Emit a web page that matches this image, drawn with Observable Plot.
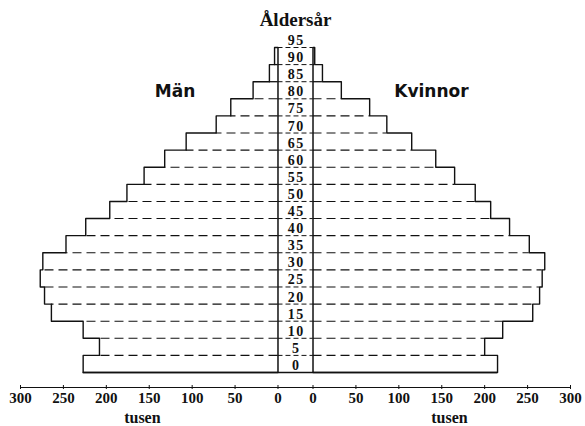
<!DOCTYPE html>
<html>
<head>
<meta charset="utf-8">
<script src="https://cdn.jsdelivr.net/npm/d3@7"></script>
<script src="https://cdn.jsdelivr.net/npm/@observablehq/plot@0.6"></script>
<style>
  html, body { margin: 0; padding: 0; background: #fff; }
  #chart svg { display: block; }
  .agelab text { letter-spacing: 1.5px; }
</style>
</head>
<body>
<div id="chart"></div>
<script>
// Age groups (lower bound of 5-year class)
const ages = [0, 5, 10, 15, 20, 25, 30, 35, 40, 45, 50, 55, 60, 65, 70, 75, 80, 85, 90];
// Population in thousands
const men   = [227, 208, 227, 264, 272, 277, 274, 247, 224, 196, 176, 156, 132, 107, 72, 55, 29, 10, 4];
const women = [215, 200, 221, 256, 264, 267, 270, 252, 229, 207, 189, 165, 143, 115, 86, 66, 33, 11, 2];
// Age tick labels in the centre column
const ageLabels = [0, 5, 10, 15, 20, 25, 30, 35, 40, 45, 50, 55, 60, 65, 70, 75, 80, 85, 90, 95];
// Axis tick values (thousands)
const xTicks = [0, 50, 100, 150, 200, 250, 300];
const title = "Åldersår";
const leftLabel = "Män";
const rightLabel = "Kvinnor";
const unitLabel = "tusen";

const g = 20.4;          // half-width of centre column, in data units
const topAge = 95;
const ink = "#111";

function outline(vals, sign) {
  const pts = [{x: sign * g, y: 0}];
  vals.forEach((v, i) => {
    pts.push({x: sign * (g + v), y: ages[i]});
    pts.push({x: sign * (g + v), y: ages[i] + 5});
  });
  pts.push({x: sign * g, y: topAge});
  return pts;
}
const leftPts = outline(men, -1);
const rightPts = outline(women, 1);

const bounds = [];
for (let i = 1; i < ages.length; i++) {
  bounds.push({age: ages[i], m: Math.min(men[i - 1], men[i]), w: Math.min(women[i - 1], women[i])});
}
const dashedB = bounds.filter(d => d.age <= 80);
const solidB = bounds.filter(d => d.age > 80);

const tickPos = [...xTicks.map(v => -(g + v)), ...xTicks.map(v => g + v)];

const serif = "'Liberation Serif', 'DejaVu Serif', serif";
const sans = "'DejaVu Sans', sans-serif";

const chart = Plot.plot({
  width: 585,
  height: 426,
  marginTop: 0,
  marginBottom: 41,
  marginLeft: 0,
  marginRight: 0,
  style: {fontFamily: serif, background: "#fff", color: ink},
  x: {domain: [-(300 + g), 300 + g], range: [20, 570]},
  y: {domain: [0, topAge], range: [372, 47], axis: null},
  marks: [
    Plot.ruleY(dashedB, {y: "age", x1: -g, x2: d => -(g + d.m), stroke: ink, strokeWidth: 1.1, strokeDasharray: "9,5"}),
    Plot.ruleY(dashedB, {y: "age", x1: g, x2: d => g + d.w, stroke: ink, strokeWidth: 1.1, strokeDasharray: "9,5"}),
    Plot.ruleY(solidB, {y: "age", x1: -g, x2: d => -(g + d.m), stroke: ink, strokeWidth: 1.3}),
    Plot.ruleY(solidB, {y: "age", x1: g, x2: d => g + d.w, stroke: ink, strokeWidth: 1.3}),
    Plot.ruleY(ageLabels.filter(a => a > 0), {y: d => d, x1: -g, x2: g, stroke: ink, strokeWidth: 1, strokeDasharray: "5,3"}),
    Plot.ruleY([0], {x1: -(g + men[0]), x2: g + women[0], stroke: ink, strokeWidth: 1.4}),
    Plot.line(leftPts, {x: "x", y: "y", stroke: ink, strokeWidth: 1.4}),
    Plot.line(rightPts, {x: "x", y: "y", stroke: ink, strokeWidth: 1.4}),
    Plot.ruleX([-g, g], {y1: 0, y2: topAge, stroke: ink, strokeWidth: 1.5}),
    Plot.text(ageLabels, {x: 0, y: d => d, text: d => String(d), dy: -7, dx: 0.75, fontSize: 14, fontWeight: "bold", fill: ink, className: "agelab"}),
    Plot.text([title], {x: 0, y: topAge, dy: -28, fontSize: 19, fontWeight: "bold", fill: ink}),
    Plot.text([leftLabel], {x: -(g + 120), y: 82, fontSize: 17, fontWeight: "bold", fontFamily: sans, fill: ink}),
    Plot.text([rightLabel], {x: g + 138, y: 82, fontSize: 17, fontWeight: "bold", fontFamily: sans, fill: ink}),
    Plot.ruleY([0], {dy: 15, x1: -(300 + g), x2: 300 + g, stroke: ink, strokeWidth: 1.2}),
    Plot.axisX({ticks: tickPos, tickSize: 4, tickPadding: 3, tickFormat: d => String(Math.round(Math.abs(d) - g)), fontSize: 15, fontWeight: "bold", label: null, stroke: ink}),
    Plot.text([-(g + 158), g + 159], {x: d => d, y: 0, dy: 45, text: () => unitLabel, fontSize: 16, fontWeight: "bold", fill: ink})
  ]
});
document.getElementById("chart").appendChild(chart);
</script>
</body>
</html>
